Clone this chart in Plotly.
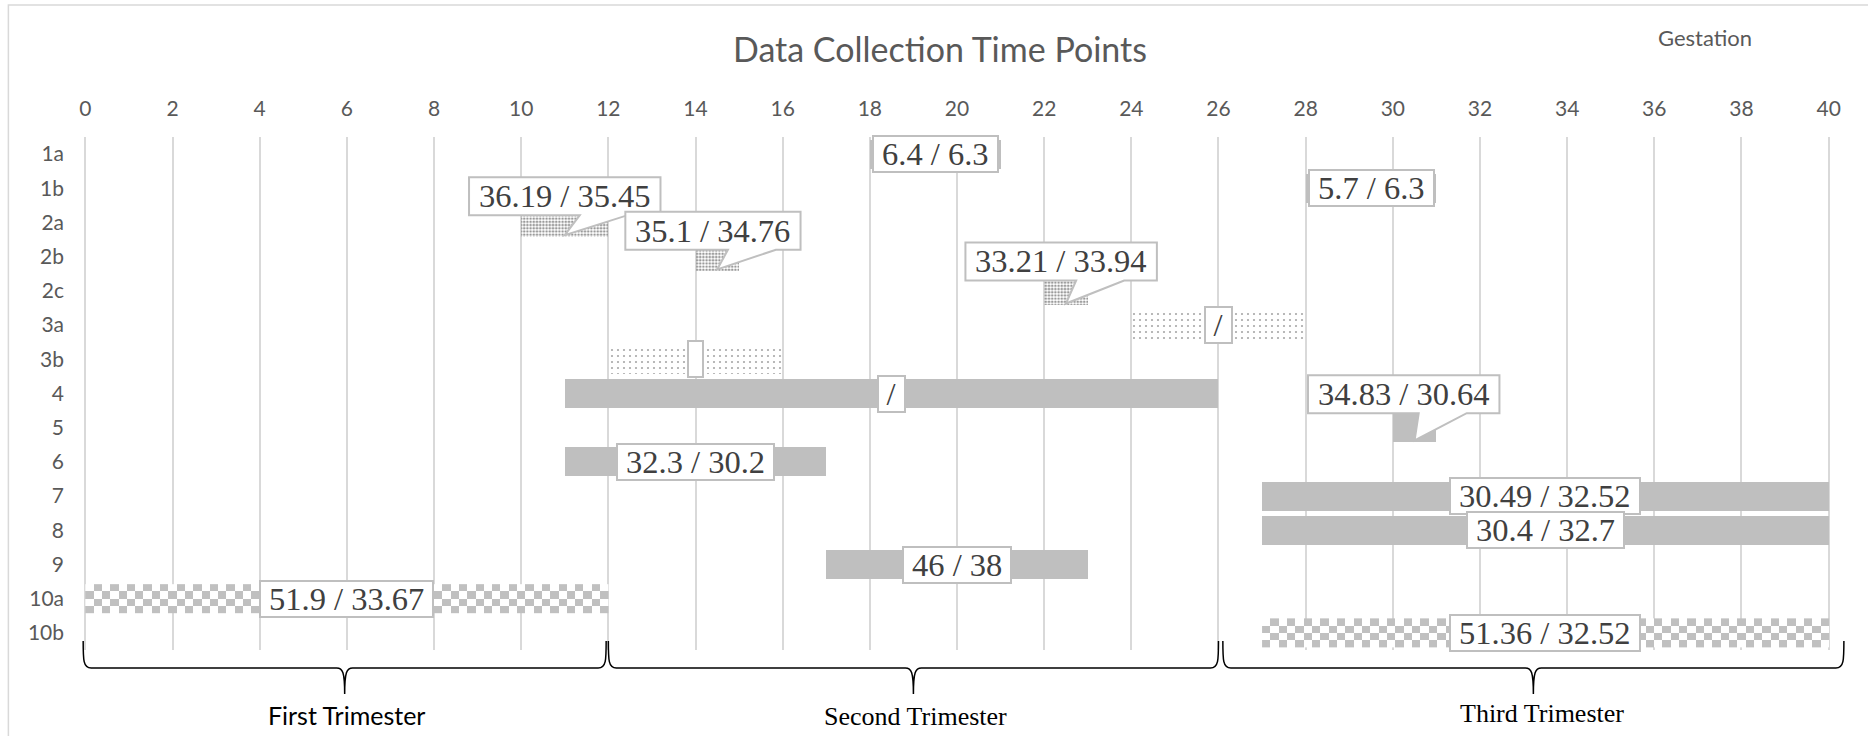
import numpy as np
import plotly.graph_objects as go

# ---------------- data ----------------
categories = ["1a", "1b", "2a", "2b", "2c", "3a", "3b", "4", "5", "6", "7", "8", "9", "10a", "10b"]
start_week = [18, 28, 10, 14, 22, 24, 12, 11, 30, 11, 27, 27, 17, 0, 27]
end_week = [21, 31, 12, 15, 23, 28, 16, 26, 31, 17, 40, 40, 23, 12, 40]
value_labels = ["6.4 / 6.3", "5.7 / 6.3", "36.19 / 35.45", "35.1 / 34.76", "33.21 / 33.94",
                "/", "", "/", "34.83 / 30.64", "32.3 / 30.2", "30.49 / 32.52", "30.4 / 32.7",
                "46 / 38", "51.9 / 33.67", "51.36 / 32.52"]
fill_style = ["solid", "solid", "dense", "dense", "dense", "sparse", "sparse", "solid",
              "solid", "solid", "solid", "solid", "solid", "checker", "checker"]
trimester_names = ["First Trimester", "Second Trimester", "Third Trimester"]
trimester_start = [0, 12, 26]
trimester_end = [12, 26, 40]
x_ticks = list(range(0, 41, 2))

# ---------------- style / layout ----------------
W, H = 1868, 736
ML, MR, MT, MB = 80.64, 34.64, 137, 86
XR = (-0.1, 40.1)
PW = W - ML - MR
PH = H - MT - MB
PXW = PW / (XR[1] - XR[0])          # pixels per week
PXR = PH / len(categories)          # pixels per row
BAR_W = 0.85

GRAY = "#BFBFBF"
TXT = "#595959"
LBL = "#404040"
SANS = "Lato"
SERIF = "Liberation Serif"
LBL_SIZE = 32.5

# callout label offsets (weeks, rows) relative to bar centre
callouts = {"2a": (0.0, -0.77), "2b": (-0.1, -0.76), "2c": (-0.11, -0.86), "5": (-0.25, -0.98)}
# brace end padding in weeks
brace_pad = [(-0.05, -0.05), (0.0, 0.0), (0.1, 0.35)]
trimester_font = [SANS, SERIF, SERIF]
trimester_size = [25, 26, 26]
trimester_label_dx = [2, 2, 9]       # px offset of label from brace tip
trimester_label_py = [715, 716, 713]


def xp(px):
    return (px - ML) / PW


def yp(py):
    return (H - MB - py) / PH


def wk2px(w):
    return ML + (w - XR[0]) * PXW


CW = {".": 0.25, " ": 0.25, "/": 0.278}


def text_px(s, size=LBL_SIZE):
    return sum(CW.get(c, 0.5) for c in s) * size


style_map = {
    "solid": dict(color=GRAY, shape="", bg="white", size=8, sol=0.3),
    "dense": dict(color="#9A9A9A", shape=".", bg="white", size=3.2, sol=0.5),
    "sparse": dict(color="#A8A8A8", shape=".", bg="white", size=6, sol=0.11),
    "checker": dict(color="rgba(0,0,0,0)", shape="", bg="white", size=8, sol=0.3),
}

fig = go.Figure()

# checkerboard texture (heatmap under transparent bars)
for i, st in enumerate(fill_style):
    if st != "checker":
        continue
    s, e = start_week[i], end_week[i]
    n = int(round((e - s) * PXW / 8.3))
    xe = np.linspace(s, e, n + 1)
    ye = np.linspace(i - BAR_W / 2, i + BAR_W / 2, 5)
    z = [[(r + c) % 2 for c in range(n)] for r in range(4)]
    fig.add_trace(go.Heatmap(x=xe, y=ye, z=z, zmin=0, zmax=1, showscale=False,
                             colorscale=[[0, "#FFFFFF"], [1, "#C0C0C0"]], hoverinfo="skip"))

dur = [e - s for s, e in zip(start_week, end_week)]
fig.add_trace(go.Bar(
    y=list(range(len(categories))), x=dur, base=start_week, orientation="h", width=BAR_W,
    marker=dict(
        color=[style_map[s]["color"] for s in fill_style],
        line=dict(width=0),
        pattern=dict(
            shape=[style_map[s]["shape"] for s in fill_style],
            bgcolor=[style_map[s]["bg"] for s in fill_style],
            fgcolor=[style_map[s]["color"] for s in fill_style],
            size=[style_map[s]["size"] for s in fill_style],
            solidity=[style_map[s]["sol"] for s in fill_style],
            fillmode="replace",
        ),
    ),
    hoverinfo="skip", showlegend=False,
))

annotations = []
shapes = []
BOX_H = 38
for i, (cat, txt) in enumerate(zip(categories, value_labels)):
    s, e = start_week[i], end_week[i]
    cx = (s + e) / 2
    ow = text_px(txt) + 20 if txt.strip() else 17
    font = dict(family=SERIF, size=LBL_SIZE, color=LBL)
    if cat in callouts:
        dx, dy = callouts[cat]
        bx, by = cx + dx, i + dy
        hw = ow / 2 / PXW
        hh = BOX_H / 2 / PXR
        L, R, T, B = bx - hw, bx + hw, by - hh, by + hh
        xl, xr = bx + 15 / PXW, bx + 63 / PXW
        tx, ty = cx, i + 0.37
        path = (f"M {L},{T} L {R},{T} L {R},{B} L {xr},{B} L {tx},{ty} "
                f"L {xl},{B} L {L},{B} Z")
        shapes.append(dict(type="path", xref="x", yref="y", path=path, fillcolor="white",
                           line=dict(color=GRAY, width=2), layer="above"))
        annotations.append(dict(x=bx, y=by, xref="x", yref="y", text=txt, showarrow=False,
                                font=font, width=ow - 4, height=BOX_H - 4,
                                xanchor="center", yanchor="middle"))
    else:
        annotations.append(dict(x=cx, y=i, xref="x", yref="y", text=txt if txt else " ",
                                showarrow=False, font=font, bgcolor="white",
                                bordercolor=GRAY, borderwidth=2, borderpad=0,
                                width=ow - 4, height=BOX_H - 4,
                                xanchor="center", yanchor="middle"))

# trimester braces
Y_TOP, Y_MID, Y_TIP = 641, 668, 694
for k, name in enumerate(trimester_names):
    w0 = trimester_start[k] + brace_pad[k][0]
    w1 = trimester_end[k] + brace_pad[k][1]
    x0, x1 = wk2px(w0), wk2px(w1)
    xc = wk2px((w0 + w1) / 2)
    pts = [
        ("M", [(x0, Y_TOP)]),
        ("C", [(x0, Y_MID - 8), (x0, Y_MID), (x0 + 8, Y_MID)]),
        ("L", [(xc - 8, Y_MID)]),
        ("C", [(xc - 2, Y_MID), (xc, Y_MID + 4), (xc, Y_TIP)]),
        ("C", [(xc, Y_MID + 4), (xc + 2, Y_MID), (xc + 8, Y_MID)]),
        ("L", [(x1 - 8, Y_MID)]),
        ("C", [(x1, Y_MID), (x1, Y_MID - 8), (x1, Y_TOP)]),
    ]
    path = " ".join(cmd + " " + " ".join(f"{xp(a):.5f},{yp(b):.5f}" for a, b in p) for cmd, p in pts)
    shapes.append(dict(type="path", xref="paper", yref="paper", path=path,
                       line=dict(color="black", width=1.5), layer="above"))
    annotations.append(dict(x=xp(xc + trimester_label_dx[k]), y=yp(trimester_label_py[k]),
                            xref="paper", yref="paper", text=name, showarrow=False,
                            font=dict(family=trimester_font[k], size=trimester_size[k], color="black"),
                            xanchor="center", yanchor="middle"))

# chart border
shapes.append(dict(type="rect", xref="paper", yref="paper", x0=xp(8), x1=xp(W + 20),
                   y0=yp(H + 20), y1=yp(5), line=dict(color="#D9D9D9", width=1.5),
                   fillcolor="rgba(0,0,0,0)", layer="above"))

annotations.append(dict(x=xp(1705), y=yp(37), xref="paper", yref="paper", text="Gestation",
                        showarrow=False, font=dict(family=SANS, size=22, color=TXT),
                        xanchor="center", yanchor="middle"))

fig.update_layout(
    width=W, height=H,
    margin=dict(l=ML, r=MR, t=MT, b=MB, pad=0, autoexpand=False),
    paper_bgcolor="white", plot_bgcolor="white",
    showlegend=False,
    title=dict(text="Data Collection Time Points", x=940 / W, xref="container", xanchor="center",
               y=1 - 50 / H, yref="container", yanchor="middle", automargin=False,
               font=dict(family=SANS, size=34, color=TXT)),
    xaxis=dict(range=list(XR), side="top", tickvals=x_ticks, showgrid=True, gridcolor="#D9D9D9",
               gridwidth=2, zeroline=False, showline=False, ticks="", automargin=False,
               tickfont=dict(family=SANS, size=21, color=TXT), ticklabelstandoff=16),
    yaxis=dict(range=[len(categories) - 0.5, -0.5], tickvals=list(range(len(categories))),
               ticktext=categories, showgrid=False, zeroline=False, showline=False, ticks="",
               automargin=False,
               tickfont=dict(family=SANS, size=21, color=TXT), ticklabelstandoff=16),
    annotations=annotations,
    shapes=shapes,
    bargap=0,
)

fig.write_html("out.html", config={"displayModeBar": False},
               post_script="document.body.style.margin='0';document.body.style.overflow='hidden';")
